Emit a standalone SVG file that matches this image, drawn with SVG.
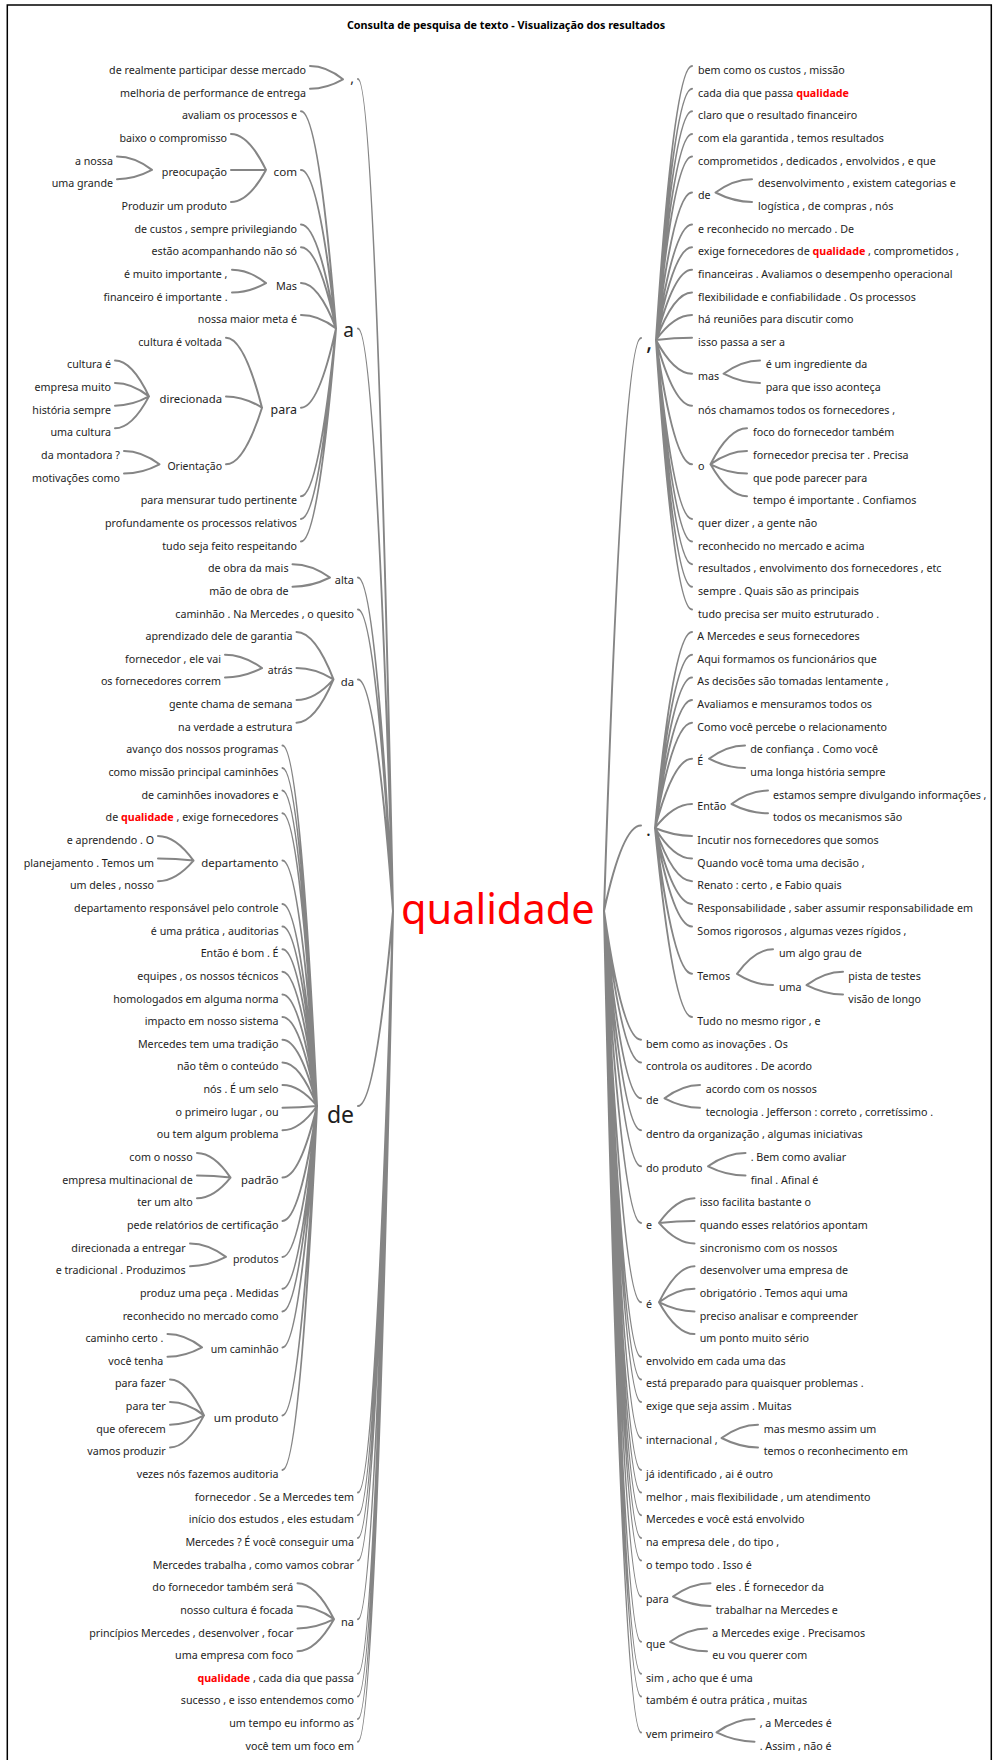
<svg xmlns="http://www.w3.org/2000/svg" width="993" height="1760" viewBox="0 0 993 1760">
<style>
text{font-family:"Noto Sans","Open Sans","Liberation Sans",sans-serif;font-size:10.7px;fill:#1e1e1e;dominant-baseline:central}
.e{text-anchor:end}
.h{fill:#ff0000;font-weight:bold}
.title{font-weight:bold;font-size:10.8px;fill:#000;text-anchor:middle;dominant-baseline:auto}
.root{font-size:41.5px;fill:#ff0000;dominant-baseline:auto}
.c path{fill:none;stroke:#858585;stroke-width:2;stroke-linecap:round}
</style>
<rect width="993" height="1760" fill="#fff"/>
<rect x="7.3" y="5" width="984" height="1770" fill="none" stroke="#000" stroke-width="1.5"/>
<text class="title" x="506" y="29">Consulta de pesquisa de texto - Visualização dos resultados</text>

<g class="c" id="connectors">
<!-- root, left side -->
<path d="M358 79Q375.5 79 393 911M358 328.4Q375.5 328.4 393 911M358 577.5Q375.5 577.5 393 911M358 609.5Q375.5 609.5 393 911M358 679.4Q375.5 679.4 393 911M358 1106Q375.5 1106 393 911M358 1492.6Q375.5 1492.6 393 911M358 1515.3Q375.5 1515.3 393 911M358 1537.9Q375.5 1537.9 393 911M358 1560.6Q375.5 1560.6 393 911M358 1619.2Q375.5 1619.2 393 911M358 1673.8Q375.5 1673.8 393 911M358 1696.4Q375.5 1696.4 393 911M358 1719.1Q375.5 1719.1 393 911M358 1741.7Q375.5 1741.7 393 911"/>
<path d="M310 66Q326.5 66 343 79.3M310 88.7Q326.5 88.7 343 79.3"/>
<path d="M301 111.3Q318.5 111.3 336 328.4M301 169.9Q318.5 169.9 336 328.4M301 224.5Q318.5 224.5 336 328.4M301 247.2Q318.5 247.2 336 328.4M301 283.1Q318.5 283.1 336 328.4M301 315.1Q318.5 315.1 336 328.4M301 407.7Q318.5 407.7 336 328.4M301 496.3Q318.5 496.3 336 328.4M301 518.9Q318.5 518.9 336 328.4M301 541.6Q318.5 541.6 336 328.4"/>
<path d="M231 133.9Q248.5 133.9 266 169.9M231 169.9Q248.5 169.9 266 169.9M231 201.9Q248.5 201.9 266 169.9"/>
<path d="M117 156.6Q134.5 156.6 152 169.9M117 179.2Q134.5 179.2 152 169.9"/>
<path d="M232 269.8Q249 269.8 266 283.1M232 292.5Q249 292.5 266 283.1"/>
<path d="M226 337.7Q244 337.7 262 407.7M226 396.4Q244 396.4 262 407.7M226 464.3Q244 464.3 262 407.7"/>
<path d="M115 360.4Q132 360.4 149 396.4M115 383Q132 383 149 396.4M115 405.7Q132 405.7 149 396.4M115 428.3Q132 428.3 149 396.4"/>
<path d="M124 451Q141.8 451 159.5 464.3M124 473.6Q141.8 473.6 159.5 464.3"/>
<path d="M292.5 564.2Q311.3 564.2 330 577.5M292.5 586.8Q311.3 586.8 330 577.5"/>
<path d="M296.5 632.1Q315 632.1 333.5 679.4M296.5 668.1Q315 668.1 333.5 679.4M296.5 700.1Q315 700.1 333.5 679.4M296.5 722.7Q315 722.7 333.5 679.4"/>
<path d="M225 654.8Q243.5 654.8 262 668.1M225 677.4Q243.5 677.4 262 668.1"/>
<path d="M282.5 745.4Q299.8 745.4 317 1106M282.5 768Q299.8 768 317 1106M282.5 790.6Q299.8 790.6 317 1106M282.5 813.3Q299.8 813.3 317 1106M282.5 860.6Q299.8 860.6 317 1106M282.5 903.9Q299.8 903.9 317 1106M282.5 926.5Q299.8 926.5 317 1106M282.5 949.2Q299.8 949.2 317 1106M282.5 971.8Q299.8 971.8 317 1106M282.5 994.5Q299.8 994.5 317 1106M282.5 1017.1Q299.8 1017.1 317 1106M282.5 1039.7Q299.8 1039.7 317 1106M282.5 1062.4Q299.8 1062.4 317 1106M282.5 1085Q299.8 1085 317 1106M282.5 1107.7Q299.8 1107.7 317 1106M282.5 1130.3Q299.8 1130.3 317 1106M282.5 1177.6Q299.8 1177.6 317 1106M282.5 1220.9Q299.8 1220.9 317 1106M282.5 1256.9Q299.8 1256.9 317 1106M282.5 1288.8Q299.8 1288.8 317 1106M282.5 1311.5Q299.8 1311.5 317 1106M282.5 1347.4Q299.8 1347.4 317 1106M282.5 1415.4Q299.8 1415.4 317 1106M282.5 1470Q299.8 1470 317 1106"/>
<path d="M158 835.9Q175.8 835.9 193.5 860.6M158 858.6Q175.8 858.6 193.5 860.6M158 881.2Q175.8 881.2 193.5 860.6"/>
<path d="M197 1153Q213.8 1153 230.5 1177.6M197 1175.6Q213.8 1175.6 230.5 1177.6M197 1198.3Q213.8 1198.3 230.5 1177.6"/>
<path d="M190 1243.5Q208 1243.5 226 1256.9M190 1266.2Q208 1266.2 226 1256.9"/>
<path d="M167.5 1334.1Q184.8 1334.1 202 1347.4M167.5 1356.8Q184.8 1356.8 202 1347.4"/>
<path d="M170 1379.4Q187 1379.4 204 1415.4M170 1402.1Q187 1402.1 204 1415.4M170 1424.7Q187 1424.7 204 1415.4M170 1447.4Q187 1447.4 204 1415.4"/>
<path d="M297.5 1583.2Q315.8 1583.2 334 1619.2M297.5 1605.9Q315.8 1605.9 334 1619.2M297.5 1628.5Q315.8 1628.5 334 1619.2M297.5 1651.2Q315.8 1651.2 334 1619.2"/>
<!-- root, right side -->
<path d="M641 338Q622.5 338 604 911M641 825.6Q622.5 825.6 604 911M641 1039.7Q622.5 1039.7 604 911M641 1062.4Q622.5 1062.4 604 911M641 1098.3Q622.5 1098.3 604 911M641 1130.3Q622.5 1130.3 604 911M641 1166.3Q622.5 1166.3 604 911M641 1222.9Q622.5 1222.9 604 911M641 1302.2Q622.5 1302.2 604 911M641 1356.8Q622.5 1356.8 604 911M641 1379.4Q622.5 1379.4 604 911M641 1402.1Q622.5 1402.1 604 911M641 1438Q622.5 1438 604 911M641 1470Q622.5 1470 604 911M641 1492.6Q622.5 1492.6 604 911M641 1515.3Q622.5 1515.3 604 911M641 1537.9Q622.5 1537.9 604 911M641 1560.6Q622.5 1560.6 604 911M641 1596.5Q622.5 1596.5 604 911M641 1641.8Q622.5 1641.8 604 911M641 1673.8Q622.5 1673.8 604 911M641 1696.4Q622.5 1696.4 604 911M641 1732.4Q622.5 1732.4 604 911"/>
<path d="M692 66Q674 66 656 340M692 88.7Q674 88.7 656 340M692 111.3Q674 111.3 656 340M692 133.9Q674 133.9 656 340M692 156.6Q674 156.6 656 340M692 192.5Q674 192.5 656 340M692 224.5Q674 224.5 656 340M692 247.2Q674 247.2 656 340M692 269.8Q674 269.8 656 340M692 292.5Q674 292.5 656 340M692 315.1Q674 315.1 656 340M692 337.7Q674 337.7 656 340M692 373.7Q674 373.7 656 340M692 405.7Q674 405.7 656 340M692 464.3Q674 464.3 656 340M692 518.9Q674 518.9 656 340M692 541.6Q674 541.6 656 340M692 564.2Q674 564.2 656 340M692 586.8Q674 586.8 656 340M692 609.5Q674 609.5 656 340"/>
<path d="M752 179.2Q733.8 179.2 715.5 192.5M752 201.9Q733.8 201.9 715.5 192.5"/>
<path d="M760 360.4Q741.8 360.4 723.5 373.7M760 383Q741.8 383 723.5 373.7"/>
<path d="M747 428.3Q728.8 428.3 710.5 464.3M747 451Q728.8 451 710.5 464.3M747 473.6Q728.8 473.6 710.5 464.3M747 496.3Q728.8 496.3 710.5 464.3"/>
<path d="M692 632.1Q673.5 632.1 655 828M692 654.8Q673.5 654.8 655 828M692 677.4Q673.5 677.4 655 828M692 700.1Q673.5 700.1 655 828M692 722.7Q673.5 722.7 655 828M692 758.7Q673.5 758.7 655 828M692 804Q673.5 804 655 828M692 835.9Q673.5 835.9 655 828M692 858.6Q673.5 858.6 655 828M692 881.2Q673.5 881.2 655 828M692 903.9Q673.5 903.9 655 828M692 926.5Q673.5 926.5 655 828M692 973.8Q673.5 973.8 655 828M692 1017.1Q673.5 1017.1 655 828"/>
<path d="M745 745.4Q727 745.4 709 758.7M745 768Q727 768 709 758.7"/>
<path d="M768 790.6Q749.8 790.6 731.5 804M768 813.3Q749.8 813.3 731.5 804"/>
<path d="M773 949.2Q755 949.2 737 973.8M773 985.1Q755 985.1 737 973.8"/>
<path d="M843 971.8Q824.8 971.8 806.5 985.1M843 994.5Q824.8 994.5 806.5 985.1"/>
<path d="M700 1085Q682.3 1085 664.5 1098.3M700 1107.7Q682.3 1107.7 664.5 1098.3"/>
<path d="M745.5 1153Q726.8 1153 708 1166.3M745.5 1175.6Q726.8 1175.6 708 1166.3"/>
<path d="M694.5 1198.3Q676.8 1198.3 659 1222.9M694.5 1220.9Q676.8 1220.9 659 1222.9M694.5 1243.5Q676.8 1243.5 659 1222.9"/>
<path d="M694.5 1266.2Q676.8 1266.2 659 1302.2M694.5 1288.8Q676.8 1288.8 659 1302.2M694.5 1311.5Q676.8 1311.5 659 1302.2M694.5 1334.1Q676.8 1334.1 659 1302.2"/>
<path d="M758 1424.7Q739.8 1424.7 721.5 1438M758 1447.4Q739.8 1447.4 721.5 1438"/>
<path d="M710.5 1583.2Q691.8 1583.2 673 1596.5M710.5 1605.9Q691.8 1605.9 673 1596.5"/>
<path d="M707 1628.5Q688.5 1628.5 670 1641.8M707 1651.2Q688.5 1651.2 670 1641.8"/>
<path d="M754.5 1719.1Q735.5 1719.1 716.5 1732.4M754.5 1741.7Q735.5 1741.7 716.5 1732.4"/>
</g>

<!-- root word -->
<g id="root"><text class="root" x="401" y="924">qualidade</text></g>

<!-- left branch, level 1 -->
<g id="l-comma"><text class="e" x="354" y="77" style="font-size:14px">,</text></g>
<g id="l-a"><text class="e" x="354" y="329.5" style="font-size:19px">a</text></g>
<g id="l-alta"><text class="e" x="354" y="579.5" style="font-size:11px">alta</text></g>
<g id="l25"><text class="e" x="354" y="613.5">caminhão . Na Mercedes , o quesito</text></g>
<g id="l-da"><text class="e" x="354" y="681.4" style="font-size:11.3px">da</text></g>
<g id="l-de"><text class="e" x="354" y="1114" style="font-size:23px">de</text></g>
<g id="l64"><text class="e" x="354" y="1496.6">fornecedor . Se a Mercedes tem</text></g>
<g id="l65"><text class="e" x="354" y="1519.3">início dos estudos , eles estudam</text></g>
<g id="l66"><text class="e" x="354" y="1541.9">Mercedes ? É você conseguir uma</text></g>
<g id="l67"><text class="e" x="354" y="1564.6">Mercedes trabalha , como vamos cobrar</text></g>
<g id="l-na"><text class="e" x="354" y="1621.2" style="font-size:11px">na</text></g>
<g id="l72"><text class="e" x="354" y="1677.8"><tspan class="h">qualidade</tspan> , cada dia que passa</text></g>
<g id="l73"><text class="e" x="354" y="1700.4">sucesso , e isso entendemos como</text></g>
<g id="l74"><text class="e" x="354" y="1723.1">um tempo eu informo as</text></g>
<g id="l75"><text class="e" x="354" y="1745.7">você tem um foco em</text></g>

<!-- under "," -->
<g id="l01"><text class="e" x="306" y="70">de realmente participar desse mercado</text></g>
<g id="l02"><text class="e" x="306" y="92.7">melhoria de performance de entrega</text></g>

<!-- under "a" -->
<g id="l03"><text class="e" x="297" y="115.3">avaliam os processos e</text></g>
<g id="l-com"><text class="e" x="297" y="171.9" style="font-size:11.6px">com</text></g>
<g id="l04"><text class="e" x="227" y="137.9">baixo o compromisso</text></g>
<g id="l-preocupacao"><text class="e" x="227" y="171.9">preocupação</text></g>
<g id="l05"><text class="e" x="113" y="160.6">a nossa</text></g>
<g id="l06"><text class="e" x="113" y="183.2">uma grande</text></g>
<g id="l07"><text class="e" x="227" y="205.9">Produzir um produto</text></g>
<g id="l08"><text class="e" x="297" y="228.5">de custos , sempre privilegiando</text></g>
<g id="l09"><text class="e" x="297" y="251.2">estão acompanhando não só</text></g>
<g id="l-mas"><text class="e" x="297" y="285.1" style="font-size:10.8px">Mas</text></g>
<g id="l10"><text class="e" x="227.5" y="273.8">é muito importante ,</text></g>
<g id="l11"><text class="e" x="227.5" y="296.5">financeiro é importante .</text></g>
<g id="l12"><text class="e" x="297" y="319.1">nossa maior meta é</text></g>
<g id="l-para"><text class="e" x="297" y="409.7" style="font-size:12.4px">para</text></g>
<g id="l13"><text class="e" x="222" y="341.7">cultura é voltada</text></g>
<g id="l-direcionada"><text class="e" x="222" y="398.4" style="font-size:11.3px">direcionada</text></g>
<g id="l14"><text class="e" x="111" y="364.4">cultura é</text></g>
<g id="l15"><text class="e" x="111" y="387">empresa muito</text></g>
<g id="l16"><text class="e" x="111" y="409.7">história sempre</text></g>
<g id="l17"><text class="e" x="111" y="432.3">uma cultura</text></g>
<g id="l-orientacao"><text class="e" x="222" y="466.3" style="font-size:10.5px">Orientação</text></g>
<g id="l18"><text class="e" x="120" y="455">da montadora ?</text></g>
<g id="l19"><text class="e" x="120" y="477.6">motivações como</text></g>
<g id="l20"><text class="e" x="297" y="500.3">para mensurar tudo pertinente</text></g>
<g id="l21"><text class="e" x="297" y="522.9">profundamente os processos relativos</text></g>
<g id="l22"><text class="e" x="297" y="545.5">tudo seja feito respeitando</text></g>

<!-- under "alta" -->
<g id="l23"><text class="e" x="288.5" y="568.2">de obra da mais</text></g>
<g id="l24"><text class="e" x="288.5" y="590.8">mão de obra de</text></g>

<!-- under "da" -->
<g id="l26"><text class="e" x="292.5" y="636.1">aprendizado dele de garantia</text></g>
<g id="l-atras"><text class="e" x="292.5" y="670.1" style="font-size:10.5px">atrás</text></g>
<g id="l27"><text class="e" x="221" y="658.8">fornecedor , ele vai</text></g>
<g id="l28"><text class="e" x="221" y="681.4">os fornecedores correm</text></g>
<g id="l29"><text class="e" x="292.5" y="704.1">gente chama de semana</text></g>
<g id="l30"><text class="e" x="292.5" y="726.7">na verdade a estrutura</text></g>

<!-- under "de" -->
<g id="l31"><text class="e" x="278.5" y="749.4">avanço dos nossos programas</text></g>
<g id="l32"><text class="e" x="278.5" y="772">como missão principal caminhões</text></g>
<g id="l33"><text class="e" x="278.5" y="794.6">de caminhões inovadores e</text></g>
<g id="l34"><text class="e" x="278.5" y="817.3">de <tspan class="h">qualidade</tspan> , exige fornecedores</text></g>
<g id="l-departamento"><text class="e" x="278.5" y="862.6" style="font-size:11.4px">departamento</text></g>
<g id="l35"><text class="e" x="154" y="839.9">e aprendendo . O</text></g>
<g id="l36"><text class="e" x="154" y="862.6">planejamento . Temos um</text></g>
<g id="l37"><text class="e" x="154" y="885.2">um deles , nosso</text></g>
<g id="l38"><text class="e" x="278.5" y="907.9">departamento responsável pelo controle</text></g>
<g id="l39"><text class="e" x="278.5" y="930.5">é uma prática , auditorias</text></g>
<g id="l40"><text class="e" x="278.5" y="953.2">Então é bom . É</text></g>
<g id="l41"><text class="e" x="278.5" y="975.8">equipes , os nossos técnicos</text></g>
<g id="l42"><text class="e" x="278.5" y="998.5">homologados em alguma norma</text></g>
<g id="l43"><text class="e" x="278.5" y="1021.1">impacto em nosso sistema</text></g>
<g id="l44"><text class="e" x="278.5" y="1043.7">Mercedes tem uma tradição</text></g>
<g id="l45"><text class="e" x="278.5" y="1066.4">não têm o conteúdo</text></g>
<g id="l46"><text class="e" x="278.5" y="1089">nós . É um selo</text></g>
<g id="l47"><text class="e" x="278.5" y="1111.7">o primeiro lugar , ou</text></g>
<g id="l48"><text class="e" x="278.5" y="1134.3">ou tem algum problema</text></g>
<g id="l-padrao"><text class="e" x="278.5" y="1179.6" style="font-size:11.2px">padrão</text></g>
<g id="l49"><text class="e" x="192.7" y="1157">com o nosso</text></g>
<g id="l50"><text class="e" x="192.7" y="1179.6">empresa multinacional de</text></g>
<g id="l51"><text class="e" x="192.7" y="1202.3">ter um alto</text></g>
<g id="l52"><text class="e" x="278.5" y="1224.9">pede relatórios de certificação</text></g>
<g id="l-produtos"><text class="e" x="278.5" y="1258.9" style="font-size:10.6px">produtos</text></g>
<g id="l53"><text class="e" x="185.7" y="1247.5">direcionada a entregar</text></g>
<g id="l54"><text class="e" x="185.7" y="1270.2">e tradicional . Produzimos</text></g>
<g id="l55"><text class="e" x="278.5" y="1292.8">produz uma peça . Medidas</text></g>
<g id="l56"><text class="e" x="278.5" y="1315.5">reconhecido no mercado como</text></g>
<g id="l-umcaminhao"><text class="e" x="278.5" y="1349.4" style="font-size:10.5px">um caminhão</text></g>
<g id="l57"><text class="e" x="163.3" y="1338.1">caminho certo .</text></g>
<g id="l58"><text class="e" x="163.3" y="1360.8">você tenha</text></g>
<g id="l-umproduto"><text class="e" x="278.5" y="1417.4" style="font-size:11.5px">um produto</text></g>
<g id="l59"><text class="e" x="165.7" y="1383.4">para fazer</text></g>
<g id="l60"><text class="e" x="165.7" y="1406.1">para ter</text></g>
<g id="l61"><text class="e" x="165.7" y="1428.7">que oferecem</text></g>
<g id="l62"><text class="e" x="165.7" y="1451.4">vamos produzir</text></g>
<g id="l63"><text class="e" x="278.5" y="1474">vezes nós fazemos auditoria</text></g>

<!-- under "na" -->
<g id="l68"><text class="e" x="293.3" y="1587.2">do fornecedor também será</text></g>
<g id="l69"><text class="e" x="293.3" y="1609.9">nosso cultura é focada</text></g>
<g id="l70"><text class="e" x="293.3" y="1632.5">princípios Mercedes , desenvolver , focar</text></g>
<g id="l71"><text class="e" x="293.3" y="1655.2">uma empresa com foco</text></g>

<!-- right branch, level 1 -->
<g id="r-comma"><text x="646" y="340" style="font-size:24px">,</text></g>
<g id="r-dot"><text x="646" y="828.6" style="font-size:18px">.</text></g>
<g id="r44"><text x="646" y="1043.7">bem como as inovações . Os</text></g>
<g id="r45"><text x="646" y="1066.4">controla os auditores . De acordo</text></g>
<g id="r-de2"><text x="646" y="1100.3">de</text></g>
<g id="r48"><text x="646" y="1134.3">dentro da organização , algumas iniciativas</text></g>
<g id="r-doproduto"><text x="646" y="1168.3">do produto</text></g>
<g id="r-e"><text x="646" y="1224.9">e</text></g>
<g id="r-e2"><text x="646" y="1304.2">é</text></g>
<g id="r58"><text x="646" y="1360.8">envolvido em cada uma das</text></g>
<g id="r59"><text x="646" y="1383.4">está preparado para quaisquer problemas .</text></g>
<g id="r60"><text x="646" y="1406.1">exige que seja assim . Muitas</text></g>
<g id="r-internacional"><text x="646" y="1440">internacional ,</text></g>
<g id="r63"><text x="646" y="1474">já identificado , ai é outro</text></g>
<g id="r64"><text x="646" y="1496.6">melhor , mais flexibilidade , um atendimento</text></g>
<g id="r65"><text x="646" y="1519.3">Mercedes e você está envolvido</text></g>
<g id="r66"><text x="646" y="1541.9">na empresa dele , do tipo ,</text></g>
<g id="r67"><text x="646" y="1564.6">o tempo todo . Isso é</text></g>
<g id="r-para"><text x="646" y="1598.5">para</text></g>
<g id="r-que"><text x="646" y="1643.8">que</text></g>
<g id="r72"><text x="646" y="1677.8">sim , acho que é uma</text></g>
<g id="r73"><text x="646" y="1700.4">também é outra prática , muitas</text></g>
<g id="r-vemprimeiro"><text x="646" y="1734.4">vem primeiro</text></g>

<!-- under "," -->
<g id="r01"><text x="698" y="70">bem como os custos , missão</text></g>
<g id="r02"><text x="698" y="92.7">cada dia que passa <tspan class="h">qualidade</tspan></text></g>
<g id="r03"><text x="698" y="115.3">claro que o resultado financeiro</text></g>
<g id="r04"><text x="698" y="137.9">com ela garantida , temos resultados</text></g>
<g id="r05"><text x="698" y="160.6">comprometidos , dedicados , envolvidos , e que</text></g>
<g id="r-de1"><text x="698" y="194.5">de</text></g>
<g id="r06"><text x="758" y="183.2">desenvolvimento , existem categorias e</text></g>
<g id="r07"><text x="758" y="205.9">logística , de compras , nós</text></g>
<g id="r08"><text x="698" y="228.5">e reconhecido no mercado . De</text></g>
<g id="r09"><text x="698" y="251.2">exige fornecedores de <tspan class="h">qualidade</tspan> , comprometidos ,</text></g>
<g id="r10"><text x="698" y="273.8">financeiras . Avaliamos o desempenho operacional</text></g>
<g id="r11"><text x="698" y="296.5">flexibilidade e confiabilidade . Os processos</text></g>
<g id="r12"><text x="698" y="319.1">há reuniões para discutir como</text></g>
<g id="r13"><text x="698" y="341.7">isso passa a ser a</text></g>
<g id="r-mas"><text x="698" y="375.7">mas</text></g>
<g id="r14"><text x="765.7" y="364.4">é um ingrediente da</text></g>
<g id="r15"><text x="765.7" y="387">para que isso aconteça</text></g>
<g id="r16"><text x="698" y="409.7">nós chamamos todos os fornecedores ,</text></g>
<g id="r-o"><text x="698" y="466.3">o</text></g>
<g id="r17"><text x="753" y="432.3">foco do fornecedor também</text></g>
<g id="r18"><text x="753" y="455">fornecedor precisa ter . Precisa</text></g>
<g id="r19"><text x="753" y="477.6">que pode parecer para</text></g>
<g id="r20"><text x="753" y="500.3">tempo é importante . Confiamos</text></g>
<g id="r21"><text x="698" y="522.9">quer dizer , a gente não</text></g>
<g id="r22"><text x="698" y="545.5">reconhecido no mercado e acima</text></g>
<g id="r23"><text x="698" y="568.2">resultados , envolvimento dos fornecedores , etc</text></g>
<g id="r24"><text x="698" y="590.8">sempre . Quais são as principais</text></g>
<g id="r25"><text x="698" y="613.5">tudo precisa ser muito estruturado .</text></g>

<!-- under "." -->
<g id="r26"><text x="697.3" y="636.1">A Mercedes e seus fornecedores</text></g>
<g id="r27"><text x="697.3" y="658.8">Aqui formamos os funcionários que</text></g>
<g id="r28"><text x="697.3" y="681.4">As decisões são tomadas lentamente ,</text></g>
<g id="r29"><text x="697.3" y="704.1">Avaliamos e mensuramos todos os</text></g>
<g id="r30"><text x="697.3" y="726.7">Como você percebe o relacionamento</text></g>
<g id="r-E"><text x="697.3" y="760.7">É</text></g>
<g id="r31"><text x="750.3" y="749.4">de confiança . Como você</text></g>
<g id="r32"><text x="750.3" y="772">uma longa história sempre</text></g>
<g id="r-entao"><text x="697.3" y="806">Então</text></g>
<g id="r33"><text x="773" y="794.6">estamos sempre divulgando informações ,</text></g>
<g id="r34"><text x="773" y="817.3">todos os mecanismos são</text></g>
<g id="r35"><text x="697.3" y="839.9">Incutir nos fornecedores que somos</text></g>
<g id="r36"><text x="697.3" y="862.6">Quando você toma uma decisão ,</text></g>
<g id="r37"><text x="697.3" y="885.2">Renato : certo , e Fabio quais</text></g>
<g id="r38"><text x="697.3" y="907.9">Responsabilidade , saber assumir responsabilidade em</text></g>
<g id="r39"><text x="697.3" y="930.5">Somos rigorosos , algumas vezes rígidos ,</text></g>
<g id="r-temos"><text x="697.3" y="975.8">Temos</text></g>
<g id="r40"><text x="779" y="953.2">um algo grau de</text></g>
<g id="r-uma"><text x="779" y="987.1">uma</text></g>
<g id="r41"><text x="848.3" y="975.8">pista de testes</text></g>
<g id="r42"><text x="848.3" y="998.5">visão de longo</text></g>
<g id="r43"><text x="697.3" y="1021.1">Tudo no mesmo rigor , e</text></g>

<!-- right sub-branches of the root -->
<g id="r46"><text x="705.7" y="1089">acordo com os nossos</text></g>
<g id="r47"><text x="705.7" y="1111.7">tecnologia . Jefferson : correto , corretíssimo .</text></g>
<g id="r49"><text x="750.7" y="1157">. Bem como avaliar</text></g>
<g id="r50"><text x="750.7" y="1179.6">final . Afinal é</text></g>
<g id="r51"><text x="699.7" y="1202.3">isso facilita bastante o</text></g>
<g id="r52"><text x="699.7" y="1224.9">quando esses relatórios apontam</text></g>
<g id="r53"><text x="699.7" y="1247.5">sincronismo com os nossos</text></g>
<g id="r54"><text x="699.7" y="1270.2">desenvolver uma empresa de</text></g>
<g id="r55"><text x="699.7" y="1292.8">obrigatório . Temos aqui uma</text></g>
<g id="r56"><text x="699.7" y="1315.5">preciso analisar e compreender</text></g>
<g id="r57"><text x="699.7" y="1338.1">um ponto muito sério</text></g>
<g id="r61"><text x="763.7" y="1428.7">mas mesmo assim um</text></g>
<g id="r62"><text x="763.7" y="1451.4">temos o reconhecimento em</text></g>
<g id="r68"><text x="715.7" y="1587.2">eles . É fornecedor da</text></g>
<g id="r69"><text x="715.7" y="1609.9">trabalhar na Mercedes e</text></g>
<g id="r70"><text x="712.3" y="1632.5">a Mercedes exige . Precisamos</text></g>
<g id="r71"><text x="712.3" y="1655.2">eu vou querer com</text></g>
<g id="r74"><text x="759.7" y="1723.1">, a Mercedes é</text></g>
<g id="r75"><text x="759.7" y="1745.7">. Assim , não é</text></g>
</svg>
